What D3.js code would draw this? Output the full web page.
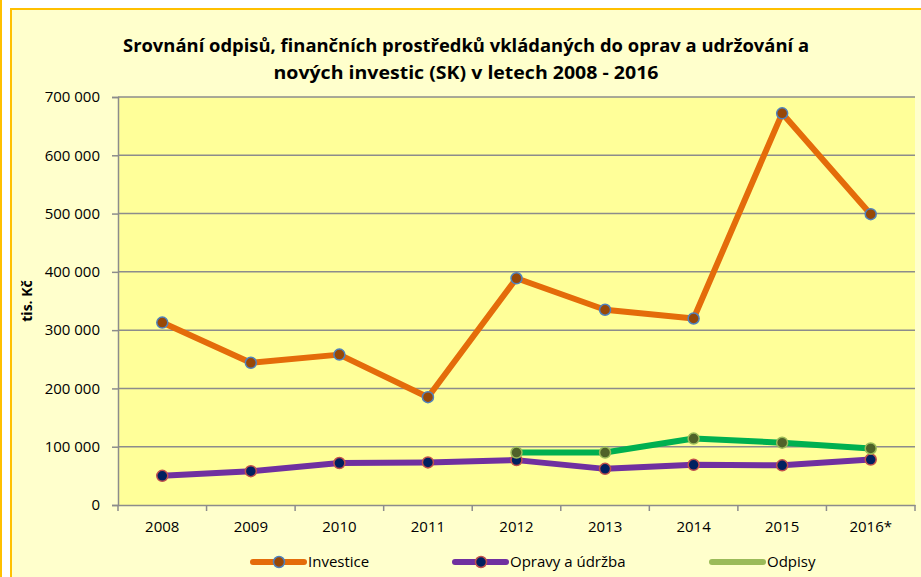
<!DOCTYPE html>
<html>
<head>
<meta charset="utf-8">
<script src="https://cdn.jsdelivr.net/npm/d3@7"></script>
<style>
  body { margin: 0; background: #fff; }
  text { font-family: "Open Sans", "Liberation Sans", Arial, sans-serif; fill: #000; }
</style>
</head>
<body>
<div id="chart"></div>
<script>
// data
var years = ["2008", "2009", "2010", "2011", "2012", "2013", "2014", "2015", "2016*"];
var investice = [313000, 244000, 258000, 185000, 389000, 335000, 320000, 672000, 499000];
var opravy = [50000, 58000, 72000, 73000, 77000, 62000, 69000, 68000, 78000];
var odpisy = [null, null, null, null, 90000, 90000, 114000, 107000, 97000];
var yTicks = [0, 100000, 200000, 300000, 400000, 500000, 600000, 700000];

var svgWidth = 921;
var svgHeight = 577;

var margin = { top: 97, right: 6, bottom: 72, left: 118 };
var chartWidth = svgWidth - margin.left - margin.right;
var chartHeight = svgHeight - margin.top - margin.bottom;

var svg = d3.select("#chart")
    .append("svg")
    .attr("width", svgWidth)
    .attr("height", svgHeight);

// outer frame
svg.append("rect").attr("x", 0).attr("y", 0).attr("width", 2).attr("height", svgHeight).attr("fill", "#FFC000");
svg.append("rect")
    .attr("x", 11).attr("y", 9)
    .attr("width", svgWidth).attr("height", svgHeight)
    .attr("fill", "#FFFFCC")
    .attr("stroke", "#FFC000")
    .attr("stroke-width", 2);

// title
var title = svg.append("text")
    .attr("text-anchor", "middle")
    .attr("font-weight", "bold")
    .attr("font-size", "18px");
title.append("tspan").attr("x", 466).attr("y", 52)
    .attr("textLength", 686).attr("lengthAdjust", "spacingAndGlyphs")
    .text("Srovnání odpisů, finančních prostředků vkládaných do oprav a udržování a");
title.append("tspan").attr("x", 466).attr("y", 79)
    .attr("textLength", 385).attr("lengthAdjust", "spacingAndGlyphs")
    .text("nových investic (SK) v letech 2008 - 2016");

var chartGroup = svg.append("g")
    .attr("transform", `translate(${margin.left}, ${margin.top})`);

var xScale = d3.scaleBand()
    .domain(years)
    .range([0, chartWidth]);

var yScale = d3.scaleLinear()
    .domain([0, 700000])
    .range([chartHeight, 0]);

chartGroup.append("rect")
    .attr("width", chartWidth)
    .attr("height", chartHeight)
    .attr("fill", "#FFFF99");

// gridlines
chartGroup.selectAll(".grid")
    .data(yTicks.slice(1))
    .enter()
    .append("line")
    .attr("x1", 0)
    .attr("x2", chartWidth)
    .attr("y1", d => yScale(d))
    .attr("y2", d => yScale(d))
    .attr("stroke", "#8C8C8C")
    .attr("stroke-width", 1.5);

var fmt = d => d3.format(",")(d).replace(/,/g, " ");

var leftAxis = d3.axisLeft(yScale)
    .tickValues(yTicks)
    .tickFormat(fmt)
    .tickSize(6)
    .tickPadding(12);

var yAxis = chartGroup.append("g").call(leftAxis);
yAxis.select(".domain").attr("stroke", "#8C8C8C").attr("stroke-width", 1.5);
yAxis.selectAll(".tick line").attr("stroke", "#8C8C8C").attr("stroke-width", 1.5);
yAxis.selectAll("text").attr("font-size", "15px").attr("font-family", "'Open Sans', sans-serif").attr("fill", "#000");

// x axis with ticks between categories
var bottomAxis = d3.axisBottom(xScale).tickSize(0).tickPadding(16);
var xAxis = chartGroup.append("g")
    .attr("transform", `translate(0, ${chartHeight})`)
    .call(bottomAxis);
xAxis.select(".domain").attr("stroke", "#8C8C8C").attr("stroke-width", 1.5);
xAxis.selectAll("text").attr("font-size", "15px").attr("font-family", "'Open Sans', sans-serif").attr("fill", "#000");
chartGroup.append("g")
    .selectAll("line")
    .data(years.concat(["end"]))
    .enter()
    .append("line")
    .attr("x1", (d, i) => i * xScale.step())
    .attr("x2", (d, i) => i * xScale.step())
    .attr("y1", chartHeight)
    .attr("y2", chartHeight + 6)
    .attr("stroke", "#8C8C8C")
    .attr("stroke-width", 1.5);

// y axis title
svg.append("text")
    .attr("transform", "translate(32, 301) rotate(-90)")
    .attr("text-anchor", "middle")
    .attr("font-weight", "bold")
    .attr("font-size", "14px")
    .text("tis. Kč");

var series = [
    { name: "Investice", values: investice, line: "#E46C0A", fill: "#984807", stroke: "#4F81BD", legendLine: "#E46C0A", legendMarker: true },
    { name: "Opravy a údržba", values: opravy, line: "#7030A0", fill: "#002060", stroke: "#C0504D", legendLine: "#7030A0", legendMarker: true },
    { name: "Odpisy", values: odpisy, line: "#00B050", fill: "#4F6228", stroke: "#9BBB59", legendLine: "#9BBB59", legendMarker: false }
];

var lineGen = d3.line()
    .defined(d => d.v != null)
    .x(d => xScale(d.year) + xScale.bandwidth() / 2)
    .y(d => yScale(d.v));

series.forEach(function (s) {
    var pts = years.map((y, i) => ({ year: y, v: s.values[i] }));
    chartGroup.append("path")
        .datum(pts)
        .attr("d", lineGen)
        .attr("fill", "none")
        .attr("stroke", s.line)
        .attr("stroke-width", 6)
        .attr("stroke-linejoin", "round");
    chartGroup.selectAll(null)
        .data(pts.filter(d => d.v != null))
        .enter()
        .append("circle")
        .attr("cx", d => xScale(d.year) + xScale.bandwidth() / 2)
        .attr("cy", d => yScale(d.v))
        .attr("r", 5.5)
        .attr("fill", s.fill)
        .attr("stroke", s.stroke)
        .attr("stroke-width", 1.5);
});

// legend
var legendX = [253, 455, 712];
var legend = svg.append("g");
series.forEach(function (s, i) {
    var g = legend.append("g").attr("transform", `translate(${legendX[i]}, 562)`);
    g.append("line")
        .attr("x1", 0).attr("x2", 51)
        .attr("stroke", s.legendLine)
        .attr("stroke-width", 6)
        .attr("stroke-linecap", "round");
    if (s.legendMarker) {
        g.append("circle")
            .attr("cx", 26).attr("r", 5.5)
            .attr("fill", s.fill)
            .attr("stroke", s.stroke)
            .attr("stroke-width", 1.5);
    }
    g.append("text")
        .attr("x", 55).attr("y", 5)
        .attr("font-size", "15px")
        .text(s.name);
});
</script>
</body>
</html>
